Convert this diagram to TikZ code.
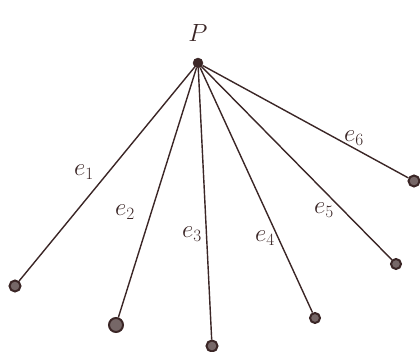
\documentclass[tikz,border=0pt]{standalone}
\usepackage{tikz}
\usetikzlibrary{positioning}
\definecolor{ink}{HTML}{3B2626}

\tikzset{
  hub/.style={circle,fill=ink,draw=ink,inner sep=0pt,minimum size=10pt},
  leaf/.style={circle,draw=ink,line width=2pt,fill=ink!70,inner sep=0pt,minimum size=11pt},
  edgelbl/.style={ink,font=\fontsize{24}{28}\selectfont}
}

\begin{document}
\begin{tikzpicture}[x=1pt,y=-1pt]
  \useasboundingbox (0,0) rectangle (420,352);
  % hub and its label
  \node[hub] (p) at (198,63) {};
  \node[ink,font=\fontsize{32}{36}\selectfont] (plbl) at (198,33) {$P$};
  % leaves
  \node[leaf] (l1) at (15,286) {};
  \node[leaf,minimum size=14pt] (l2) at (116,325) {};
  \node[leaf] (l3) at (212,346) {};
  \node[leaf,minimum size=10pt] (l4) at (315,318) {};
  \node[leaf,minimum size=10pt] (l5) at (396,264) {};
  \node[leaf] (l6) at (414,181) {};
  \foreach \i in {1,...,6} {
    \draw[ink,line width=1.4pt] (p) -- (l\i);
  }
  % edge labels
  \node[edgelbl] (e1) at (84,172) {$e_1$};
  \node[edgelbl] (e2) at (125,212) {$e_2$};
  \node[edgelbl] (e3) at (192,234) {$e_3$};
  \node[edgelbl] (e4) at (265,238) {$e_4$};
  \node[edgelbl] (e5) at (324,210) {$e_5$};
  \node[edgelbl] (e6) at (354,138) {$e_6$};
\end{tikzpicture}
\end{document}
